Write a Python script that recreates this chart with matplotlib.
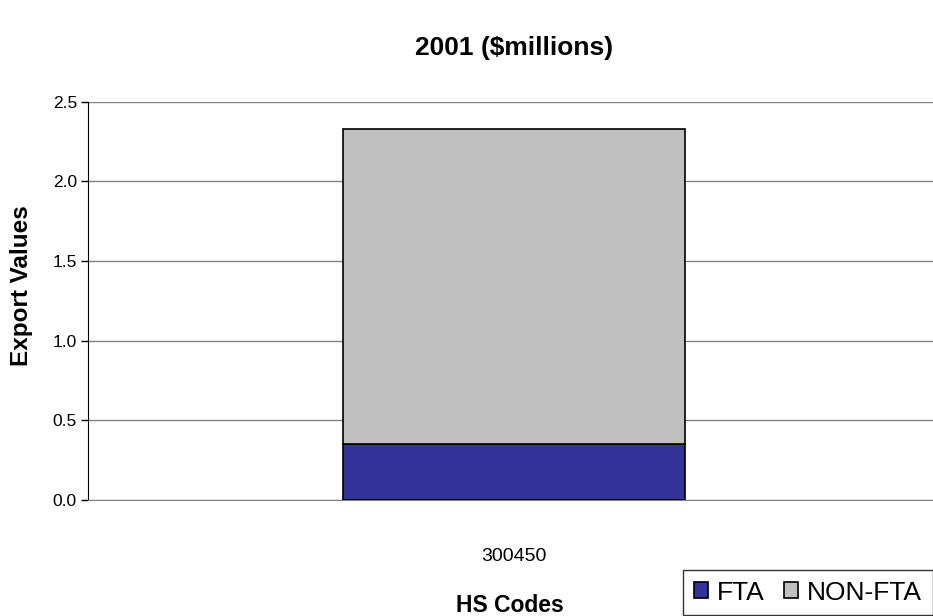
import matplotlib
matplotlib.use("Agg")
import matplotlib.pyplot as plt

categories = ["300450"]
fta = [0.35]
non_fta = [1.98]
yticks = [0.0, 0.5, 1.0, 1.5, 2.0, 2.5]

plt.rcParams['font.family'] = ['Liberation Sans', 'DejaVu Sans']

W, H = 933, 616
fig = plt.figure(figsize=(W/100, H/100), dpi=100)
ax_l, ax_r, ax_t, ax_b = 88, 940, 101.5, 500
ax = fig.add_axes([ax_l/W, 1-ax_b/H, (ax_r-ax_l)/W, (ax_b-ax_t)/H])

x = list(range(len(categories)))
ax.bar(x, fta, width=0.402, color='#333399', edgecolor='black', linewidth=1.2, zorder=3, label='FTA')
ax.bar(x, non_fta, bottom=fta, width=0.402, color='#C0C0C0', edgecolor='black', linewidth=1.2, zorder=3, label='NON-FTA')

ax.set_xlim(-0.5, 0.5)
ax.set_ylim(0, 2.5)
ax.set_yticks(yticks)
ax.set_yticklabels([f"{v:.1f}" for v in yticks], fontsize=12.5)
ax.set_xticks(x)
ax.set_xticklabels(categories, fontsize=14)
ax.yaxis.grid(True, color='#808080', linewidth=1.0, zorder=0)
for s in ['top', 'right']:
    ax.spines[s].set_visible(False)
ax.spines['left'].set_color('black')
ax.spines['bottom'].set_color('#808080')
ax.tick_params(axis='y', length=5, width=1, direction='out', pad=3)
ax.tick_params(axis='x', length=0, pad=0)
for lbl in ax.get_xticklabels():
    lbl.set_y(-0.12)

fig.text(514/W, 1-48/H, "2001 ($millions)", ha='center', va='center', fontsize=19, fontweight='bold')
fig.text(510/W, 1-605/H, "HS Codes", ha='center', va='center', fontsize=16.5, fontweight='bold')
fig.text(22/W, 1-286/H, "Export Values", ha='center', va='center', rotation=90, fontsize=17.5, fontweight='bold')

leg = fig.legend(loc='upper left', bbox_to_anchor=(683/W, 1-570/H), ncol=2, frameon=True,
                 fontsize=19, handlelength=0.55, handleheight=0.55, handletextpad=0.35,
                 columnspacing=0.7, borderpad=0.4, borderaxespad=0, fancybox=False)
leg.get_frame().set_edgecolor('black')
leg.get_frame().set_linewidth(1.0)

fig.savefig("out.png", dpi=100)
